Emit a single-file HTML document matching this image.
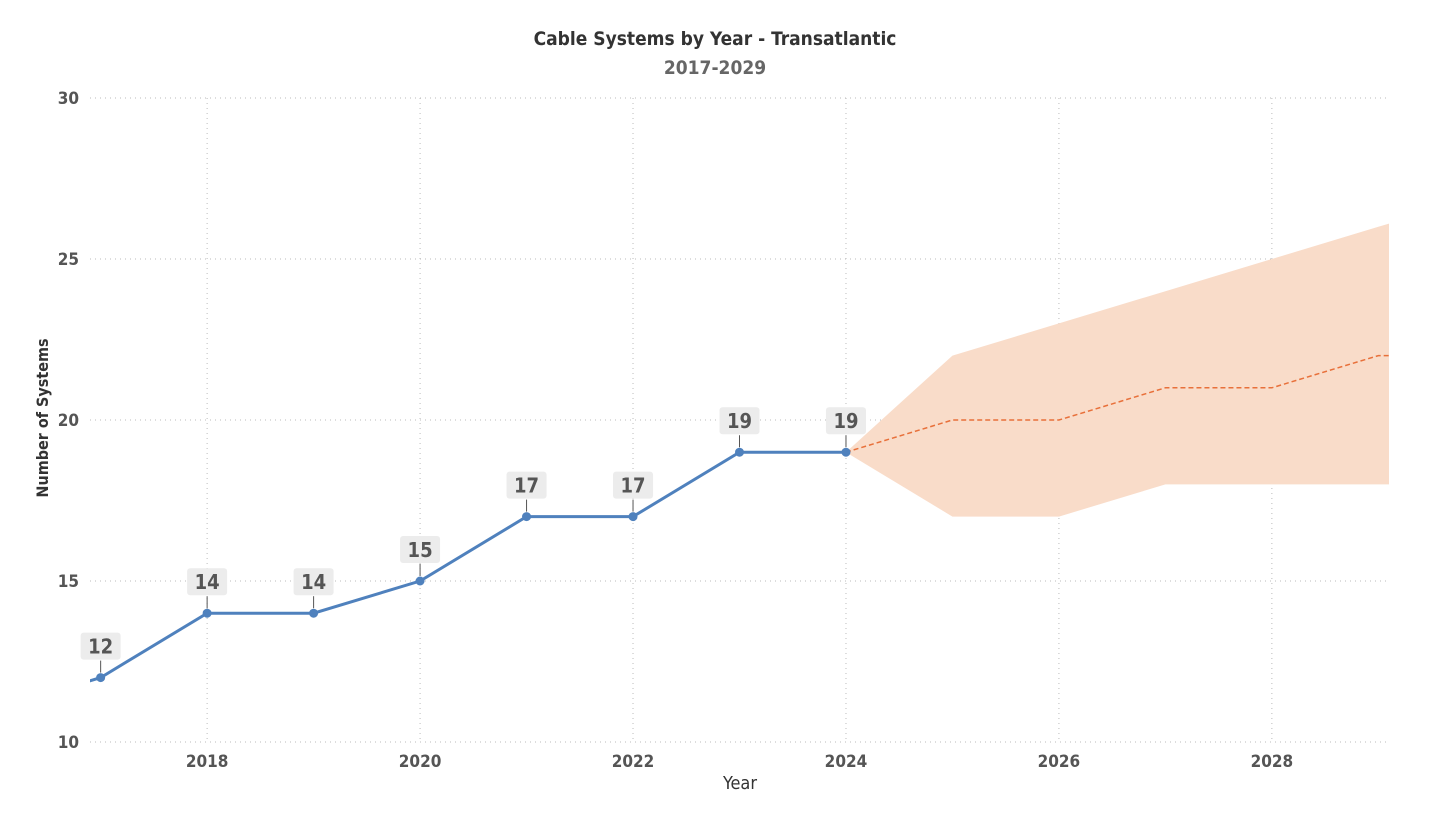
<!DOCTYPE html>
<html><head><meta charset="utf-8"><style>
body{margin:0;background:#fff;font-family:"DejaVu Sans Condensed","Liberation Sans",sans-serif;}
svg text{font-family:"DejaVu Sans Condensed","Liberation Sans",sans-serif;}
</style></head><body>
<svg id="chart" width="1429" height="825"></svg>
<script>
const years=[2016,2017,2018,2019,2020,2021,2022,2023,2024];
const counts=[11,12,14,14,15,17,17,19,19];
const fYears=[2024,2025,2026,2027,2028,2029,2030];
const fMid=[19,20,20,21,21,22,22];
const fLow=[19,17,17,18,18,18,18];
const fHigh=[19,22,23,24,25,26,27];
const yTicks=[10,15,20,25,30];
const xTicks=[2018,2020,2022,2024,2026,2028];
const NS="http://www.w3.org/2000/svg";
const svg=document.getElementById('chart');
const X0=90,X1=1389,D0=2016.9,D1=2029.1,Y0=742,Y1=98;
const sx=v=>X0+(v-D0)/(D1-D0)*(X1-X0);
const sy=v=>Y0-(v-10)/20*(Y0-Y1);
function el(t,a,p){const e=document.createElementNS(NS,t);for(const k in a)e.setAttribute(k,a[k]);(p||svg).appendChild(e);return e;}
const defs=el('defs',{});const cp=el('clipPath',{id:'clip'},defs);el('rect',{x:X0,y:0,width:X1-X0,height:825},cp);
yTicks.forEach(v=>{const l=el('line',{x1:X0,x2:X1,y1:sy(v),y2:sy(v),stroke:'#bbb','stroke-dasharray':'1,4'});

const t=el('text',{x:79,y:sy(v)+6,'text-anchor':'end','font-size':17,'font-weight':'bold',fill:'#555'});t.textContent=v;
});
xTicks.forEach(v=>{const l=el('line',{x1:sx(v),x2:sx(v),y1:Y1,y2:Y0,stroke:'#bbb','stroke-dasharray':'1,4'});

const t=el('text',{x:sx(v),y:767,'text-anchor':'middle','font-size':17,'font-weight':'bold',fill:'#555'});t.textContent=v;
});
const g=el('g',{'clip-path':'url(#clip)'});
let d='';fYears.forEach((y,i)=>d+=(i?'L':'M')+sx(y)+','+sy(fHigh[i]));
for(let i=fYears.length-1;i>=0;i--)d+='L'+sx(fYears[i])+','+sy(fLow[i]);
const rib=el('path',{d:d+'Z',fill:'#f9dcc9'},g);

const fl=el('polyline',{points:fYears.map((y,i)=>sx(y)+','+sy(fMid[i])).join(' '),fill:'none',stroke:'#e8703a','stroke-width':1.5,'stroke-dasharray':'5,3'},g);

const ln=el('polyline',{points:years.map((y,i)=>sx(y)+','+sy(counts[i])).join(' '),fill:'none',stroke:'#4f81bd','stroke-width':3},g);

years.forEach((y,i)=>{if(y<2017)return;const cx=sx(y),cy=sy(counts[i]);
const c=el('circle',{cx:cx,cy:cy,r:4.5,fill:'#4f81bd'});
el('line',{x1:cx,x2:cx,y1:cy-5,y2:cy-17,stroke:'#555','stroke-width':1});
const r=el('rect',{x:cx-20,y:cy-45,width:40,height:27,rx:3,fill:'#ececec'});
const t=el('text',{x:cx,y:cy-24,'text-anchor':'middle','font-size':20,'font-weight':'bold',fill:'#555'});t.textContent=counts[i];
});
function txt(s,a,n){const t=el('text',a);t.textContent=s;}
txt('Cable Systems by Year - Transatlantic',{x:715,y:45,'text-anchor':'middle','font-size':19,'font-weight':'bold',fill:'#333'},'chart-title');
txt('2017-2029',{x:715,y:74,'text-anchor':'middle','font-size':19,'font-weight':'bold',fill:'#666'},'chart-subtitle');
txt('Year',{x:740,y:789,'text-anchor':'middle','font-size':18,fill:'#333'},'x-axis-title');
txt('Number of Systems',{x:0,y:0,transform:'translate(48,418) rotate(-90)','text-anchor':'middle','font-size':16,'font-weight':'bold',fill:'#333'},'y-axis-title');
</script>
</body></html>
